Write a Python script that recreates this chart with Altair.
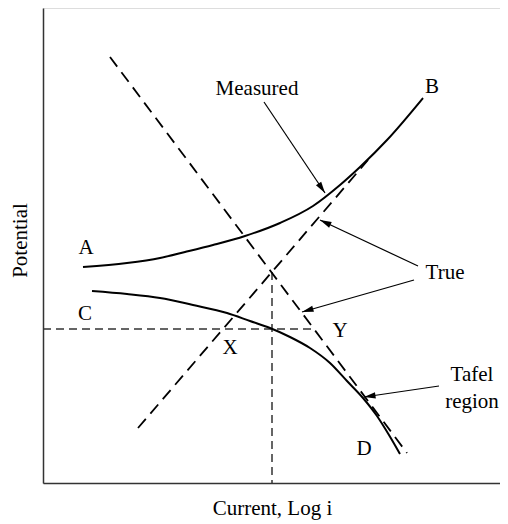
import math
import altair as alt
import pandas as pd

# ---------------- data (figure units: x = log i, y = potential) ----------------
# Measured anodic curve A -> B
ab_x = [40, 84, 117, 142, 170, 202, 237, 270, 297, 317, 344, 380]
ab_y = [216, 220, 225, 231, 238, 247, 260, 277, 298, 316, 343, 385]
# Measured cathodic curve C -> D
cd_x = [49, 84, 117, 150, 184, 207, 227, 247, 267, 287, 304, 320, 334, 346, 357]
cd_y = [192, 189, 185, 178, 170, 162, 155, 146, 135, 120, 102, 85, 67, 48, 29]
# True (Tafel) straight lines
tafel_name = ["cathodic", "anodic"]
tafel_x1 = [67, 95]
tafel_y1 = [426, 55]
tafel_x2 = [364, 325]
tafel_y2 = [30, 323]
# guide lines: corrosion potential (horizontal) and corrosion current (vertical)
guide_name = ["E_corr", "i_corr"]
guide_x1 = [0, 229]
guide_y1 = [154, 211]
guide_x2 = [269, 229]
guide_y2 = [154, 0]
# point labels
lab_text = ["A", "B", "C", "D", "X", "Y"]
lab_x = [43, 389, 42, 321, 187, 297]
lab_y = [229, 390, 163, 28, 129, 146]
# annotation texts
note_text = ["Measured", "True", "Tafel", "region"]
note_x = [214, 402, 429, 429]
note_y = [388, 204, 102, 75]
# annotation arrows (tail -> head)
arr_x1 = [221, 375, 371, 396]
arr_y1 = [381, 217, 203, 97]
arr_x2 = [282, 277, 259, 321]
arr_y2 = [290, 263, 171, 86]

# ---------------- tables ----------------
curves = pd.concat([
    pd.DataFrame({"x": ab_x, "y": ab_y, "series": "AB"}),
    pd.DataFrame({"x": cd_x, "y": cd_y, "series": "CD"}),
])
tafel = pd.DataFrame({"name": tafel_name, "x": tafel_x1, "y": tafel_y1,
                      "x2": tafel_x2, "y2": tafel_y2})
guides = pd.DataFrame({"name": guide_name, "x": guide_x1, "y": guide_y1,
                       "x2": guide_x2, "y2": guide_y2})
labels = pd.DataFrame({"t": lab_text, "x": lab_x, "y": lab_y})
notes = pd.DataFrame({"t": note_text, "x": note_x, "y": note_y})
arrows = pd.DataFrame({"x": arr_x1, "y": arr_y1, "x2": arr_x2, "y2": arr_y2})
heads = pd.DataFrame({
    "x": arr_x2, "y": arr_y2,
    "angle": [math.degrees(math.atan2(b - a, d - c)) % 360
              for a, b, c, d in zip(arr_x1, arr_x2, arr_y1, arr_y2)],
})

FONT = "Liberation Serif"
FS = 21
W, H = 457, 475

xs = alt.Scale(domain=[0, W], nice=False, zero=False)
ys = alt.Scale(domain=[0, H], nice=False, zero=False)
xaxis = alt.Axis(title="Current, Log i", ticks=False, labels=False, grid=False,
                 domainColor="#333333", domainWidth=1.5, titleFont=FONT,
                 titleFontSize=FS, titleFontWeight="normal", titleColor="black",
                 titlePadding=14, titleX=229)
yaxis = alt.Axis(title="Potential", ticks=False, labels=False, grid=False,
                 domainColor="#333333", domainWidth=1.5, titleFont=FONT,
                 titleFontSize=FS, titleFontWeight="normal", titleColor="black",
                 titlePadding=13, titleY=232)
X = alt.X("x:Q", scale=xs, axis=xaxis)
Y = alt.Y("y:Q", scale=ys, axis=yaxis)

curve_layer = alt.Chart(curves).mark_line(
    color="black", strokeWidth=2, interpolate="monotone").encode(
    x=X, y=Y, detail="series:N")

tafel_layer = alt.Chart(tafel).mark_rule(color="black", strokeWidth=1.8,
                                         strokeDash=[12, 7]).encode(
    x=X, y=Y, x2="x2:Q", y2="y2:Q")

guide_layer = alt.Chart(guides).mark_rule(color="#333333", strokeWidth=1.5,
                                          strokeDash=[8, 5]).encode(
    x=X, y=Y, x2="x2:Q", y2="y2:Q")

arrow_layer = alt.Chart(arrows).mark_rule(color="black", strokeWidth=1.2).encode(
    x=X, y=Y, x2="x2:Q", y2="y2:Q")

head_layer = alt.Chart(heads).mark_point(
    shape="M0,0L-0.6,2.2L0.6,2.2Z", filled=True, color="black", opacity=1,
    size=110, strokeWidth=0).encode(
    x=X, y=Y, angle=alt.Angle("angle:Q", scale=None))

label_layer = alt.Chart(labels).mark_text(
    font=FONT, fontSize=FS, align="center", baseline="alphabetic",
    color="black").encode(x=X, y=Y, text="t:N")

note_layer = alt.Chart(notes).mark_text(
    font=FONT, fontSize=FS, align="center", baseline="alphabetic",
    color="black").encode(x=X, y=Y, text="t:N")

chart = alt.layer(
    guide_layer, tafel_layer, curve_layer, arrow_layer, head_layer,
    label_layer, note_layer
).properties(
    width=W, height=H,
    autosize=alt.AutoSizeParams(type="none"),
    padding={"left": 35, "top": 0, "right": 0, "bottom": 41},
).configure_view(stroke=None).configure(background="white")

chart.save("out.html", embed_options={"renderer": "svg", "actions": False})
